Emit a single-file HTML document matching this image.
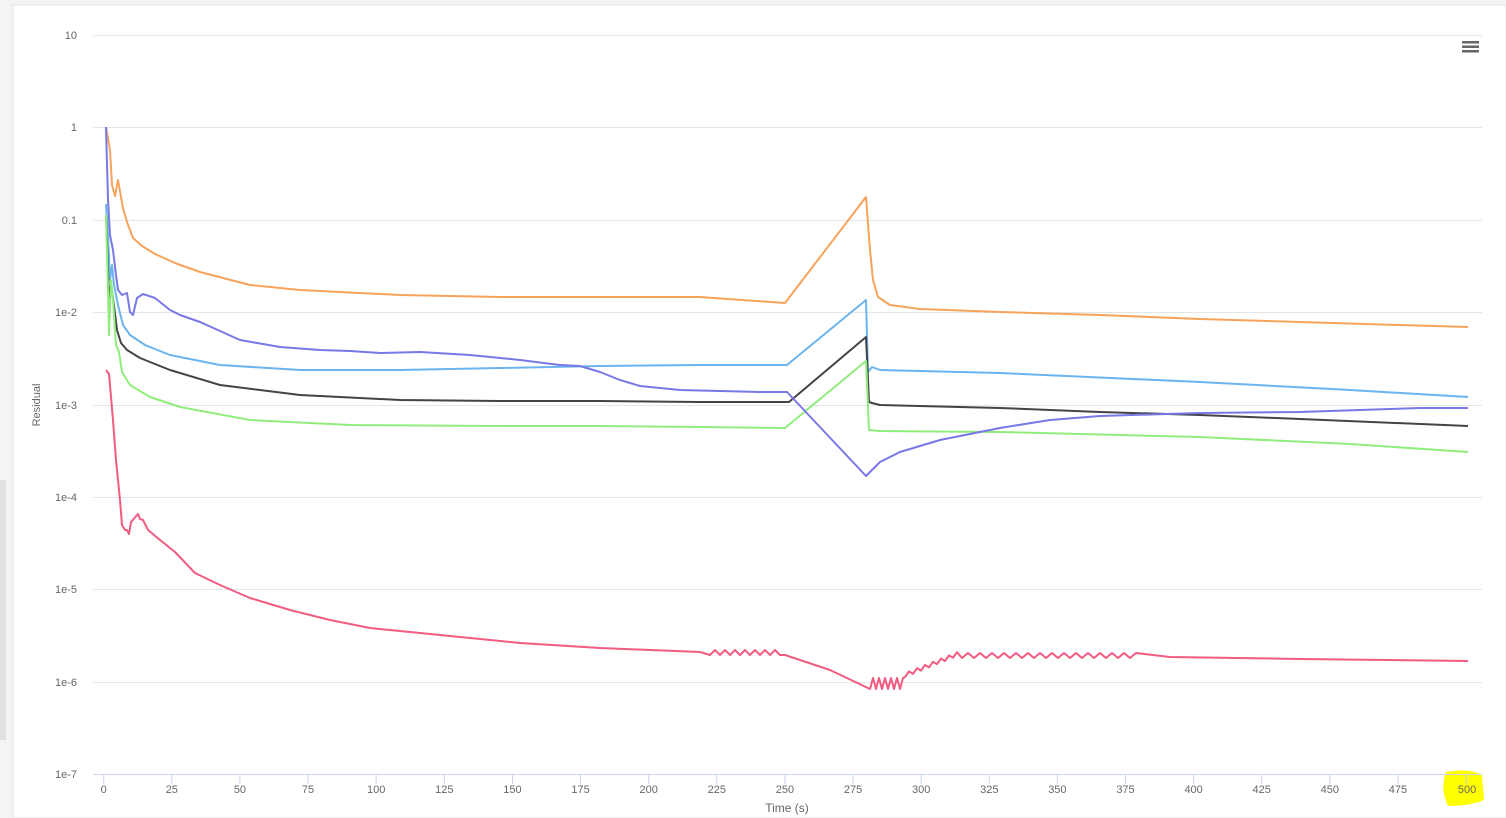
<!DOCTYPE html><html><head><style>
body{margin:0;background:#fff;font-family:"Liberation Sans",sans-serif;}
#w{position:relative;width:1506px;height:818px;overflow:hidden;background:#fff}
</style></head><body><div id="w">
<svg width="1506" height="818" style="position:absolute;left:0;top:0">
<rect x="0" y="0" width="1506" height="818" fill="#f4f4f4"/>
<rect x="13" y="5" width="1493" height="813" fill="#fff" stroke="#e4e4e4"/>
<rect x="0" y="480" width="6" height="260" fill="#e0e0e0"/>
<g stroke="#e6e6e6" stroke-width="1">
<line x1="93" x2="1482" y1="35.5" y2="35.5"/><line x1="93" x2="1482" y1="127.5" y2="127.5"/>
<line x1="93" x2="1482" y1="220.5" y2="220.5"/><line x1="93" x2="1482" y1="312.5" y2="312.5"/>
<line x1="93" x2="1482" y1="405.5" y2="405.5"/><line x1="93" x2="1482" y1="497.5" y2="497.5"/>
<line x1="93" x2="1482" y1="589.5" y2="589.5"/><line x1="93" x2="1482" y1="682.5" y2="682.5"/>
</g>
<path d="M1446 772 Q1470 768 1482 775 L1484 800 Q1470 806 1448 806 Q1440 790 1446 772Z" fill="#ffff00"/>
<line x1="93" x2="1482" y1="774.5" y2="774.5" stroke="#ccd6eb"/>
<g id="ticks" stroke="#ccd6eb"></g>
<g font-size="11" fill="#666" text-anchor="end">
<text x="77" y="39">10</text><text x="77" y="131">1</text><text x="77" y="224">0.1</text>
<text x="77" y="316">1e-2</text><text x="77" y="409">1e-3</text><text x="77" y="501">1e-4</text>
<text x="77" y="593">1e-5</text><text x="77" y="686">1e-6</text><text x="77" y="778">1e-7</text>
</g>
<g id="xl" font-size="11" fill="#666" text-anchor="middle"></g>
<text x="787" y="812" font-size="12" fill="#666" text-anchor="middle">Time (s)</text>
<text transform="translate(40,405) rotate(-90)" font-size="11" fill="#666" text-anchor="middle">Residual</text>
<g fill="#666"><rect x="1462" y="41" width="17" height="2.5"/><rect x="1462" y="45.5" width="17" height="2.5"/><rect x="1462" y="50" width="17" height="2.5"/></g>
<g fill="none" stroke-width="2" stroke-linejoin="round">
<polyline stroke="#f7a35c" points="106,127 110,150 112,185 115,196 118,180 121,197 123,208 127,222 133,238 142,246 155,254 175,263 200,272 250,285 300,290 400,295 500,297 600,297 700,297 785,303 866,197 870,250 873,280 878,297 890,305 920,309 1000,312 1100,315 1200,319 1300,322 1400,325 1468,327"/>
<polyline stroke="#6cb4ee" points="106,204 108,235 110,280 112,265 114,285 118,305 123,325 130,335 145,345 170,355 220,365 300,370 400,370 500,368 600,366 700,365 787,365 866,300 868,372 872,367 880,370 1000,373 1200,382 1350,390 1468,397"/>
<polyline stroke="#434348" points="106,215 109,300 111,285 113,298 117,330 121,343 127,350 140,358 170,370 220,385 300,395 400,400 500,401 600,401 700,402 789,402 866,337 869,402 872,403 880,405 1000,408 1100,412 1200,415 1300,419 1468,426"/>
<polyline stroke="#90ed7d" points="106,215 108,290 109,335 111,280 113,300 116,345 119,352 122,372 130,385 150,397 180,407 250,420 350,425 500,426 600,426 700,427 785,428 866,361 869,430 880,431 1000,432 1200,437 1350,444 1468,452"/>
<polyline stroke="#7878e6" points="106,127 108,200 110,235 113,250 116,275 118,290 122,295 127,293 130,312 133,315 137,298 143,294 155,298 170,310 180,315 200,322 240,340 280,347 320,350 350,351 380,353 420,352 470,355 520,360 560,365 580,366 600,372 620,380 640,386 680,390 720,391 760,392 787,392 866,476 880,462 900,452 940,440 1000,428 1050,420 1100,416 1200,413 1300,412 1360,410 1420,408 1468,408"/>
<polyline id="pk" stroke="#f15c80" points=""/>
</g>
</svg>
<script>
var t=document.getElementById('ticks'),xl=document.getElementById('xl'),s='',l='';
for(var i=0;i<=20;i++){var x=103.7+i*68.12;s+='<line x1="'+x+'" x2="'+x+'" y1="774" y2="784"/>';l+='<text x="'+(i==20?x+1:x)+'" y="793">'+(i*25)+'</text>';}
t.innerHTML=s;xl.innerHTML=l;
var p=[[106,370],[109,374],[113,420],[116,460],[120,500],[122,525],[125,530],[127,530],[129,534],[131,522],[138,514],[140,519],[143,520],[148,530],[160,540],[175,552],[195,573],[220,585],[250,598],[290,610],[330,620],[370,628],[420,633],[460,637],[520,643],[600,648],[700,652]];
var k=0;
for(var x=710;x<785;x+=5,k++)p.push([x,653+(k%2?-3:2)]);
p.push([785,655],[830,670],[868,688]);
k=0;for(var x=870;x<905;x+=3,k++)p.push([x,684+(k%2?-6:5)]);
k=0;for(var x=905;x<960;x+=4,k++)p.push([x,675-(x-905)*0.4+(k%2?-2:2)]);
k=0;for(var x=962;x<1140;x+=6,k++)p.push([x,656+(k%2?-3:2)]);
p.push([1170,657],[1300,659],[1468,661]);
document.getElementById('pk').setAttribute('points',p.map(function(a){return a.join(',')}).join(' '));
</script>
</div></body></html>
